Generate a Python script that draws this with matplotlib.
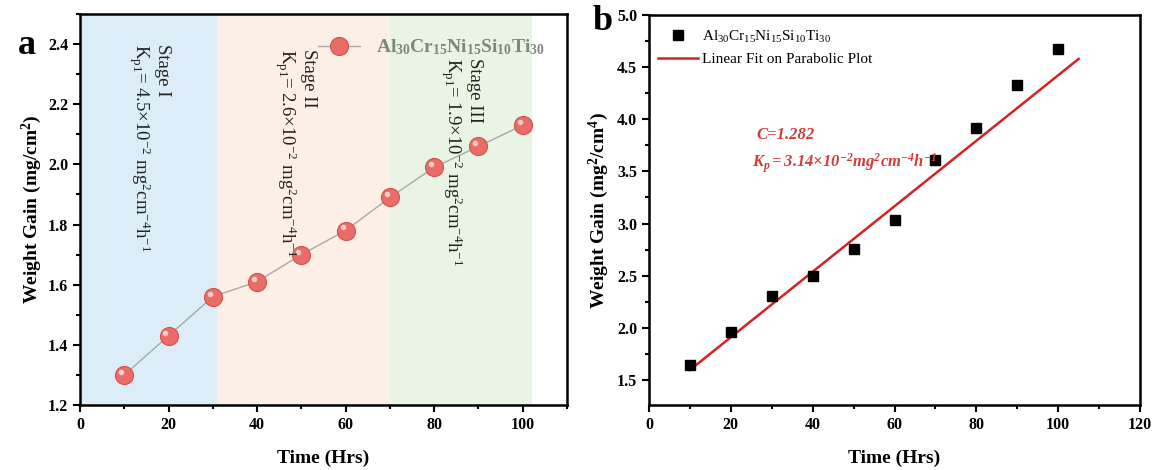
#!/usr/bin/env python

import numpy as np
import matplotlib
matplotlib.use('Agg')
from matplotlib import pyplot as plt
from matplotlib import transforms
from matplotlib.ticker import MultipleLocator

plt.rcParams['font.family'] = ['Liberation Serif', 'DejaVu Serif']
plt.rcParams['mathtext.fontset'] = 'custom'
plt.rcParams['mathtext.rm'] = 'Liberation Serif'
plt.rcParams['mathtext.it'] = 'Liberation Serif:italic'
plt.rcParams['mathtext.bf'] = 'Liberation Serif:bold'
plt.rcParams['mathtext.bfit'] = 'Liberation Serif:italic:bold'

# panel a: weight gain vs time
hours_a = [10, 20, 30, 40, 50, 60, 70, 80, 90, 100]
gain_a = [1.30, 1.43, 1.56, 1.61, 1.70, 1.78, 1.89, 1.99, 2.06, 2.13]

# oxidation stages (start, end, colour, text)
stage_bounds = [(0, 31), (31, 70), (70, 102)]
stage_colors = ['#dcedf8', '#fcefe6', '#e9f4e4']
stage_names = ['Stage I', 'Stage II', 'Stage III']
stage_kp = ['4.5', '2.6', '1.9']
stage_text_x = [15.6, 48.5, 86.0]
stage_text_y = [2.40, 2.385, 2.355]

# panel b: parabolic plot (squared weight gain)
hours_b = [10, 20, 30, 40, 50, 60, 70, 80, 90, 100]
gain_sq_b = [1.64, 1.96, 2.31, 2.50, 2.76, 3.03, 3.61, 3.92, 4.33, 4.67]
fit_c = 1.282
fit_kp = 3.14e-2
fit_range = [10, 105]

alloy = r'Al_{30}Cr_{15}Ni_{15}Si_{10}Ti_{30}'

fig = plt.figure(figsize=(11.56, 4.70), dpi=100)
ax1 = fig.add_axes([80 / 1156, 65 / 470, 487 / 1156, 391 / 470])
ax2 = fig.add_axes([649 / 1156, 65 / 470, 491 / 1156, 390 / 470])


def style_axes(ax):
    for sp in ax.spines.values():
        sp.set_linewidth(1.8)
    ax.tick_params(which='both', direction='out', top=False, right=False,
                   width=1.5, labelsize=11.5)
    ax.tick_params(which='major', length=5)
    ax.tick_params(which='minor', length=3)
    for lab in ax.get_xticklabels() + ax.get_yticklabels():
        lab.set_fontweight('bold')


# ---- panel a
for (x0, x1), c in zip(stage_bounds, stage_colors):
    ax1.axvspan(x0, x1, color=c, lw=0, zorder=0)

for name, kp, tx, ty in zip(stage_names, stage_kp, stage_text_x, stage_text_y):
    s = name + '\n' + r'K$_{\mathrm{p1}}$= ' + kp + r'$\times$10$^{-2}$ mg$^2$cm$^{-4}$h$^{-1}$'
    ax1.text(tx, ty, s, rotation=270, ha='center', va='top',
             multialignment='left', fontsize=13.5, linespacing=1.12,
             color='#222222', zorder=5)

ax1.plot(hours_a, gain_a, '-o', color='#a9a9a9', lw=1, ms=13,
         mfc='#e96c66', mec='#cf544e', mew=0.8, zorder=3,
         label='$\\mathbf{' + alloy + '}$')
hl = transforms.offset_copy(ax1.transData, fig=fig, x=-2.2, y=2.2, units='points')
ax1.plot(hours_a, gain_a, 'o', ms=4, color='#f8cdc9', mec='none',
         transform=hl, zorder=4)

ax1.set_xlim(0, 110)
ax1.set_ylim(1.2, 2.5)
ax1.xaxis.set_major_locator(MultipleLocator(20))
ax1.xaxis.set_minor_locator(MultipleLocator(10))
ax1.yaxis.set_major_locator(MultipleLocator(0.2))
ax1.yaxis.set_minor_locator(MultipleLocator(0.1))
style_axes(ax1)
ax1.set_xlabel('Time (Hrs)', fontsize=14, fontweight='bold', labelpad=12)
ax1.set_ylabel('Weight Gain (mg/cm$^\\mathbf{2}$)', fontsize=14,
               fontweight='bold', labelpad=3)
ax1.legend(loc='upper right', bbox_to_anchor=(0.99, 0.985), frameon=False,
           prop={'size': 14, 'weight': 'bold'}, handlelength=2.2,
           labelcolor='#7d8879')

# ---- panel b
ax2.plot(hours_b, gain_sq_b, 's', color='black', ms=7, zorder=3,
         label='$\\mathrm{' + alloy + '}$')
fit_x = np.array(fit_range)
ax2.plot(fit_x, fit_c + fit_kp * fit_x, '-', color='#d62222', lw=1.8,
         zorder=2, label='Linear Fit on Parabolic Plot')
ax2.text(26.2, 3.85, 'C=1.282', fontsize=12, fontweight='bold',
         fontstyle='italic', color='#d33a3a', va='center')
ax2.text(25.2, 3.58,
         r'$\mathbfit{K_p{=}3.14{\times}10^{-2}mg^2cm^{-4}h^{-1}}$',
         fontsize=12, color='#d33a3a', va='center')

ax2.set_xlim(0, 120)
ax2.set_ylim(1.26, 5.0)
ax2.xaxis.set_major_locator(MultipleLocator(20))
ax2.xaxis.set_minor_locator(MultipleLocator(10))
ax2.yaxis.set_major_locator(MultipleLocator(0.5))
ax2.yaxis.set_minor_locator(MultipleLocator(0.25))
style_axes(ax2)
ax2.set_xlabel('Time (Hrs)', fontsize=14, fontweight='bold', labelpad=12)
ax2.set_ylabel('Weight Gain (mg$^\\mathbf{2}$/cm$^\\mathbf{4}$)', fontsize=14,
               fontweight='bold', labelpad=4)
ax2.legend(loc='upper left', bbox_to_anchor=(-0.01, 1.0), frameon=False,
           fontsize=11, handlelength=2.6, handletextpad=0.3, labelspacing=0.5)

fig.text(18 / 1156, 1 - 45 / 470, 'a', fontsize=26, fontweight='bold', va='center')
fig.text(593 / 1156, 1 - 22 / 470, 'b', fontsize=26, fontweight='bold', va='center')

plt.savefig('out.png', dpi=100)
